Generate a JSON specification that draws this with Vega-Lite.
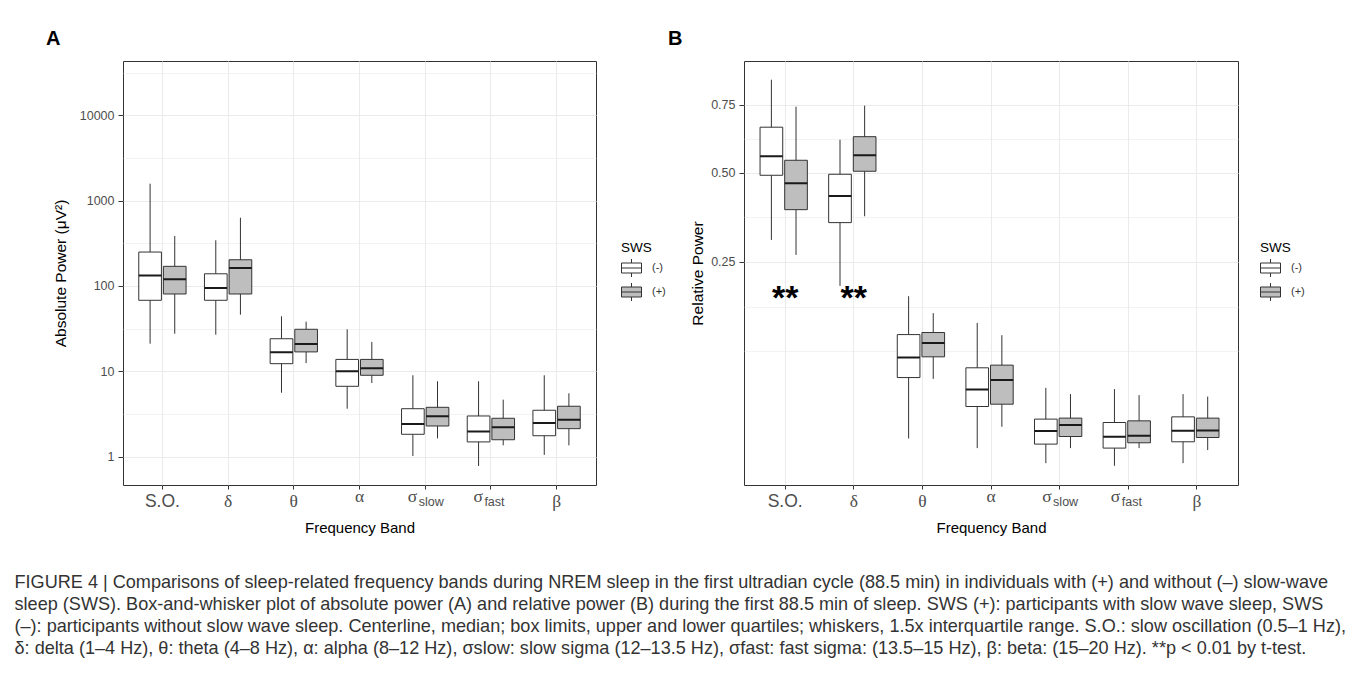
{
  "$schema": "https://vega.github.io/schema/vega-lite/v6.json",
  "background": "white",
  "padding": {"left": 14, "top": 28, "right": 5, "bottom": 5},
  "datasets": {
    "abs": [
      {"band": "S.O.", "sws": "(-)", "lower": 21.1, "q1": 68, "median": 133, "q3": 250, "upper": 1580},
      {"band": "S.O.", "sws": "(+)", "lower": 27.6, "q1": 80.6, "median": 120, "q3": 170, "upper": 385},
      {"band": "δ", "sws": "(-)", "lower": 26.9, "q1": 68, "median": 94.8, "q3": 139, "upper": 343},
      {"band": "δ", "sws": "(+)", "lower": 46.1, "q1": 80.6, "median": 163, "q3": 203, "upper": 631},
      {"band": "θ", "sws": "(-)", "lower": 5.62, "q1": 12.3, "median": 16.7, "q3": 24.1, "upper": 44.2},
      {"band": "θ", "sws": "(+)", "lower": 12.5, "q1": 16.9, "median": 20.9, "q3": 31.1, "upper": 38.2},
      {"band": "α", "sws": "(-)", "lower": 3.65, "q1": 6.68, "median": 10.0, "q3": 13.8, "upper": 31.1},
      {"band": "α", "sws": "(+)", "lower": 7.3, "q1": 8.99, "median": 10.9, "q3": 13.8, "upper": 22.1},
      {"band": "σslow", "sws": "(-)", "lower": 1.02, "q1": 1.83, "median": 2.42, "q3": 3.65, "upper": 8.99},
      {"band": "σslow", "sws": "(+)", "lower": 1.64, "q1": 2.29, "median": 2.97, "q3": 3.79, "upper": 7.65},
      {"band": "σfast", "sws": "(-)", "lower": 0.778, "q1": 1.49, "median": 1.98, "q3": 3.0, "upper": 7.65},
      {"band": "σfast", "sws": "(+)", "lower": 1.36, "q1": 1.58, "median": 2.21, "q3": 2.82, "upper": 4.66},
      {"band": "β", "sws": "(-)", "lower": 1.05, "q1": 1.76, "median": 2.48, "q3": 3.5, "upper": 8.99},
      {"band": "β", "sws": "(+)", "lower": 1.36, "q1": 2.13, "median": 2.71, "q3": 3.9, "upper": 5.53}
    ],
    "rel": [
      {"band": "S.O.", "sws": "(-)", "lower": 0.304, "q1": 0.4925, "median": 0.5565, "q3": 0.662, "upper": 0.854},
      {"band": "S.O.", "sws": "(+)", "lower": 0.2668, "q1": 0.3866, "median": 0.4668, "q3": 0.5427, "upper": 0.742},
      {"band": "δ", "sws": "(-)", "lower": 0.1975, "q1": 0.35, "median": 0.4273, "q3": 0.4958, "upper": 0.6156},
      {"band": "δ", "sws": "(+)", "lower": 0.3678, "q1": 0.5057, "median": 0.56, "q3": 0.6266, "upper": 0.746},
      {"band": "θ", "sws": "(-)", "lower": 0.00797, "q1": 0.0534, "median": 0.0771, "q3": 0.1096, "upper": 0.1767},
      {"band": "θ", "sws": "(+)", "lower": 0.052, "q1": 0.078, "median": 0.0972, "q3": 0.1128, "upper": 0.1451},
      {"band": "α", "sws": "(-)", "lower": 0.00448, "q1": 0.0268, "median": 0.0413, "q3": 0.0644, "upper": 0.1284},
      {"band": "α", "sws": "(+)", "lower": 0.01357, "q1": 0.0286, "median": 0.0507, "q3": 0.0676, "upper": 0.1087},
      {"band": "σslow", "sws": "(-)", "lower": 0.00102, "q1": 0.00581, "median": 0.01134, "q3": 0.01806, "upper": 0.0429},
      {"band": "σslow", "sws": "(+)", "lower": 0.00448, "q1": 0.00882, "median": 0.0145, "q3": 0.01869, "upper": 0.0371},
      {"band": "σfast", "sws": "(-)", "lower": 0.000666, "q1": 0.00448, "median": 0.00869, "q3": 0.016, "upper": 0.0417},
      {"band": "σfast", "sws": "(+)", "lower": 0.00448, "q1": 0.00629, "median": 0.00912, "q3": 0.017, "upper": 0.0362},
      {"band": "β", "sws": "(-)", "lower": 0.00102, "q1": 0.00666, "median": 0.0115, "q3": 0.0195, "upper": 0.0371},
      {"band": "β", "sws": "(+)", "lower": 0.00388, "q1": 0.00839, "median": 0.01164, "q3": 0.01869, "upper": 0.0349}
    ],
    "stars": [
      {"band": "S.O.", "label": "**", "y": 0.153},
      {"band": "δ", "label": "**", "y": 0.153}
    ]
  },
  "hconcat": [
    {
      "width": 473,
      "height": 424,
      "title": {"text": "A", "anchor": "start", "frame": "group", "dx": -77, "offset": -4, "fontSize": 20, "fontWeight": "bold", "color": "black", "baseline": "alphabetic"},
      "data": {"name": "abs"},
      "layer": [
        {
          "mark": {"type": "rule", "color": "#333333", "strokeWidth": 1},
          "encoding": {
            "x": {"field": "band", "type": "nominal", "sort": ["S.O.", "δ", "θ", "α", "σslow", "σfast", "β"],
              "scale": {"type": "band", "paddingInner": 0, "paddingOuter": 0.1},
              "axis": {
                "orient": "bottom", "title": "Frequency Band", "titleFontSize": 15, "titleColor": "black", "titleFontWeight": "normal", "titlePadding": 10,
                "labelAngle": 0,
                "labelExpr": "(datum.value == 'σslow' || datum.value == 'σfast') ? 'σ' : datum.value",
                "labelFontSize": 17.5, "labelColor": "#4D4D4D",
                "labelFont": {"condition": {"test": "datum.value == 'S.O.'", "value": "Liberation Sans"}, "value": "Liberation Serif"},
                "labelBaseline": "alphabetic",
                "labelPadding": {"condition": {"test": "datum.value == 'α' || datum.value == 'σslow' || datum.value == 'σfast'", "value": 12.5}, "value": 17.5},
                "labelAlign": {"condition": {"test": "datum.value == 'σslow' || datum.value == 'σfast'", "value": "right"}, "value": "center"},
                "labelOffset": {"condition": {"test": "datum.value == 'σslow' || datum.value == 'σfast'", "value": -8}, "value": 0},
                "tickSize": 4, "tickColor": "#333333", "tickWidth": 1,
                "domain": false, "grid": true, "gridColor": "#EBEBEB", "gridWidth": 1.1, "bandPosition": 0.5
              }},
            "xOffset": {"field": "sws", "type": "nominal", "sort": ["(-)", "(+)"], "scale": {"paddingInner": 0.08, "paddingOuter": 0.3733}},
            "y": {"field": "lower", "type": "quantitative",
              "scale": {"type": "log", "domain": [0.466, 43270], "nice": false},
              "axis": {
                "title": "Absolute Power (μV²)", "titleFontSize": 15.5, "titleColor": "black", "titleFontWeight": "normal", "titlePadding": 10.5,
                "values": [1, 3.1623, 10, 31.623, 100, 316.23, 1000, 3162.3, 10000, 31623],
                "labelExpr": "indexof([1, 10, 100, 1000, 10000], datum.value) >= 0 ? format(datum.value, 'd') : ''",
                "labelOverlap": false, "labelFontSize": 12.5, "labelColor": "#4D4D4D", "labelPadding": 4,
                "tickSize": 5, "tickColor": "#333333",
                "tickOpacity": {"condition": {"test": "indexof([1, 10, 100, 1000, 10000], datum.value) >= 0", "value": 1}, "value": 0},
                "grid": true, "gridColor": "#EBEBEB",
                "gridWidth": {"condition": {"test": "indexof([1, 10, 100, 1000, 10000], datum.value) >= 0", "value": 1.1}, "value": 0.6},
                "domain": false
              }},
            "y2": {"field": "upper"}
          }
        },
        {
          "mark": {"type": "bar", "stroke": "#333333", "strokeWidth": 1},
          "encoding": {
            "x": {"field": "band", "type": "nominal", "sort": ["S.O.", "δ", "θ", "α", "σslow", "σfast", "β"], "axis": null},
            "xOffset": {"field": "sws", "type": "nominal", "sort": ["(-)", "(+)"]},
            "y": {"field": "q1", "type": "quantitative"},
            "y2": {"field": "q3"},
            "fill": {"field": "sws", "type": "nominal",
              "scale": {"domain": ["(-)", "(+)"], "range": ["#FFFFFF", "#BEBEBE"]},
              "legend": {"title": "SWS", "orient": "none", "legendX": 498, "legendY": 180,
                "symbolType": "M-1,-0.5H1V0.5H-1Z M0,-0.5V-0.9 M0,0.5V0.9 M-1,0H1",
                "symbolSize": 400, "symbolStrokeColor": "#333333", "symbolStrokeWidth": 1,
                "labelFontSize": 11, "labelColor": "#333333", "labelOffset": 10,
                "titleFontSize": 13.5, "titleFontWeight": "normal", "titleColor": "black", "titlePadding": 3,
                "rowPadding": 1, "padding": 0}}
          }
        },
        {
          "mark": {"type": "bar", "stroke": "#1A1A1A", "strokeWidth": 2, "fillOpacity": 0},
          "encoding": {
            "x": {"field": "band", "type": "nominal", "sort": ["S.O.", "δ", "θ", "α", "σslow", "σfast", "β"],
              "axis": {
                "orient": "bottom", "title": null, "domain": false, "grid": false,
                "ticks": true, "tickSize": 4, "tickOpacity": 0,
                "labelAngle": 0,
                "labelExpr": "datum.value == 'σslow' ? 'slow' : (datum.value == 'σfast' ? 'fast' : '')",
                "labelFontSize": 12.5, "labelColor": "#4D4D4D", "labelFont": "Liberation Sans",
                "labelAlign": "left", "labelOffset": -6.5, "labelBaseline": "alphabetic", "labelPadding": 16,
                "bandPosition": 0.5
              }},
            "xOffset": {"field": "sws", "type": "nominal", "sort": ["(-)", "(+)"]},
            "y": {"field": "median", "type": "quantitative"},
            "y2": {"field": "median"}
          }
        }
      ],
      "resolve": {"axis": {"x": "independent"}}
    },
    {
      "width": 494,
      "height": 424,
      "title": {"text": "B", "anchor": "start", "frame": "group", "dx": -76, "offset": -4, "fontSize": 20, "fontWeight": "bold", "color": "black", "baseline": "alphabetic"},
      "layer": [
        {
          "data": {"name": "rel"},
          "mark": {"type": "rule", "color": "#333333", "strokeWidth": 1},
          "encoding": {
            "x": {"field": "band", "type": "nominal", "sort": ["S.O.", "δ", "θ", "α", "σslow", "σfast", "β"],
              "scale": {"type": "band", "paddingInner": 0, "paddingOuter": 0.1},
              "axis": {
                "orient": "bottom", "title": "Frequency Band", "titleFontSize": 15, "titleColor": "black", "titleFontWeight": "normal", "titlePadding": 10,
                "labelAngle": 0,
                "labelExpr": "(datum.value == 'σslow' || datum.value == 'σfast') ? 'σ' : datum.value",
                "labelFontSize": 17.5, "labelColor": "#4D4D4D",
                "labelFont": {"condition": {"test": "datum.value == 'S.O.'", "value": "Liberation Sans"}, "value": "Liberation Serif"},
                "labelBaseline": "alphabetic",
                "labelPadding": {"condition": {"test": "datum.value == 'α' || datum.value == 'σslow' || datum.value == 'σfast'", "value": 12.5}, "value": 17.5},
                "labelAlign": {"condition": {"test": "datum.value == 'σslow' || datum.value == 'σfast'", "value": "right"}, "value": "center"},
                "labelOffset": {"condition": {"test": "datum.value == 'σslow' || datum.value == 'σfast'", "value": -8}, "value": 0},
                "tickSize": 4, "tickColor": "#333333", "tickWidth": 1,
                "domain": false, "grid": true, "gridColor": "#EBEBEB", "gridWidth": 1.1, "bandPosition": 0.5
              }},
            "xOffset": {"field": "sws", "type": "nominal", "sort": ["(-)", "(+)"], "scale": {"paddingInner": 0.08, "paddingOuter": 0.3733}},
            "y": {"field": "lower", "type": "quantitative",
              "scale": {"type": "sqrt", "domain": [-0.000358, 0.9364], "nice": false, "zero": false},
              "axis": {
                "title": "Relative Power", "titleFontSize": 15.5, "titleColor": "black", "titleFontWeight": "normal", "titlePadding": 5,
                "values": [0.0858, 0.157, 0.25, 0.3648, 0.5, 0.619, 0.75],
                "labelExpr": "indexof([0.25, 0.5, 0.75], datum.value) >= 0 ? format(datum.value, '.2f') : ''",
                "labelOverlap": false, "labelFontSize": 12.5, "labelColor": "#4D4D4D", "labelPadding": 4,
                "tickSize": 5, "tickColor": "#333333",
                "tickOpacity": {"condition": {"test": "indexof([0.25, 0.5, 0.75], datum.value) >= 0", "value": 1}, "value": 0},
                "grid": true, "gridColor": "#EBEBEB",
                "gridWidth": {"condition": {"test": "indexof([0.25, 0.5, 0.75], datum.value) >= 0", "value": 1.1}, "value": 0.6},
                "domain": false
              }},
            "y2": {"field": "upper"}
          }
        },
        {
          "data": {"name": "rel"},
          "mark": {"type": "bar", "stroke": "#333333", "strokeWidth": 1},
          "encoding": {
            "x": {"field": "band", "type": "nominal", "sort": ["S.O.", "δ", "θ", "α", "σslow", "σfast", "β"], "axis": null},
            "xOffset": {"field": "sws", "type": "nominal", "sort": ["(-)", "(+)"]},
            "y": {"field": "q1", "type": "quantitative"},
            "y2": {"field": "q3"},
            "fill": {"field": "sws", "type": "nominal",
              "scale": {"domain": ["(-)", "(+)"], "range": ["#FFFFFF", "#BEBEBE"]},
              "legend": {"title": "SWS", "orient": "none", "legendX": 516, "legendY": 180,
                "symbolType": "M-1,-0.5H1V0.5H-1Z M0,-0.5V-0.9 M0,0.5V0.9 M-1,0H1",
                "symbolSize": 400, "symbolStrokeColor": "#333333", "symbolStrokeWidth": 1,
                "labelFontSize": 11, "labelColor": "#333333", "labelOffset": 10,
                "titleFontSize": 13.5, "titleFontWeight": "normal", "titleColor": "black", "titlePadding": 3,
                "rowPadding": 1, "padding": 0}}
          }
        },
        {
          "data": {"name": "rel"},
          "mark": {"type": "bar", "stroke": "#1A1A1A", "strokeWidth": 2, "fillOpacity": 0},
          "encoding": {
            "x": {"field": "band", "type": "nominal", "sort": ["S.O.", "δ", "θ", "α", "σslow", "σfast", "β"],
              "axis": {
                "orient": "bottom", "title": null, "domain": false, "grid": false,
                "ticks": true, "tickSize": 4, "tickOpacity": 0,
                "labelAngle": 0,
                "labelExpr": "datum.value == 'σslow' ? 'slow' : (datum.value == 'σfast' ? 'fast' : '')",
                "labelFontSize": 12.5, "labelColor": "#4D4D4D", "labelFont": "Liberation Sans",
                "labelAlign": "left", "labelOffset": -6.5, "labelBaseline": "alphabetic", "labelPadding": 16,
                "bandPosition": 0.5
              }},
            "xOffset": {"field": "sws", "type": "nominal", "sort": ["(-)", "(+)"]},
            "y": {"field": "median", "type": "quantitative"},
            "y2": {"field": "median"}
          }
        },
        {
          "data": {"name": "stars"},
          "mark": {"type": "text", "fontSize": 34, "fontWeight": "bold", "font": "Liberation Sans", "baseline": "alphabetic", "align": "center", "color": "black"},
          "encoding": {
            "x": {"field": "band", "type": "nominal", "sort": ["S.O.", "δ", "θ", "α", "σslow", "σfast", "β"], "axis": null},
            "y": {"field": "y", "type": "quantitative"},
            "text": {"field": "label"}
          }
        }
      ],
      "resolve": {"axis": {"x": "independent"}}
    }
  ],
  "spacing": 148,
  "bounds": "flush",
  "resolve": {"scale": {"fill": "independent"}},
  "title": {
    "text": [
      "FIGURE 4 | Comparisons of sleep-related frequency bands during NREM sleep in the first ultradian cycle (88.5 min) in individuals with (+) and without (–) slow-wave",
      "sleep (SWS). Box-and-whisker plot of absolute power (A) and relative power (B) during the first 88.5 min of sleep. SWS (+): participants with slow wave sleep, SWS",
      "(–): participants without slow wave sleep. Centerline, median; box limits, upper and lower quartiles; whiskers, 1.5x interquartile range. S.O.: slow oscillation (0.5–1 Hz),",
      "δ: delta (1–4 Hz), θ: theta (4–8 Hz), α: alpha (8–12 Hz), σslow: slow sigma (12–13.5 Hz), σfast: fast sigma: (13.5–15 Hz), β: beta: (15–20 Hz). **p < 0.01 by t-test."
    ],
    "orient": "bottom", "anchor": "start", "frame": "bounds",
    "fontSize": 18.1, "fontWeight": "normal", "color": "#333333", "lineHeight": 22,
    "offset": 38, "dx": -31
  },
  "config": {
    "font": "Liberation Sans",
    "view": {"stroke": "#333333", "strokeWidth": 1},
    "axis": {"labelFont": "Liberation Sans", "titleFont": "Liberation Sans"},
    "legend": {"labelFont": "Liberation Sans", "titleFont": "Liberation Sans"},
    "title": {"font": "Liberation Sans"}
  }
}
